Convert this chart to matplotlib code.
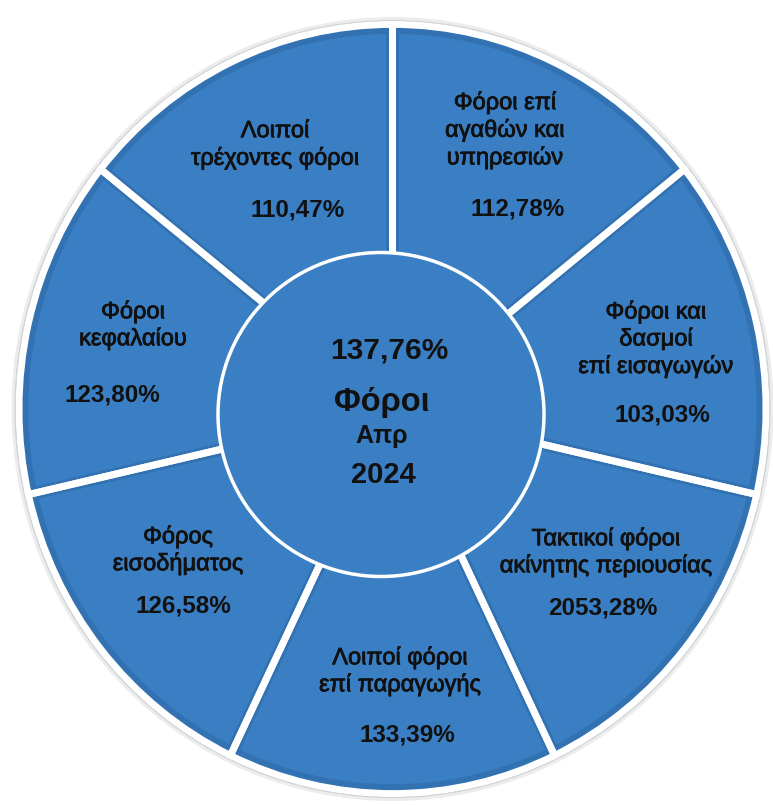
import matplotlib
matplotlib.use("Agg")
import matplotlib.pyplot as plt
import matplotlib.patheffects as pe
from matplotlib.patches import Ellipse

# data: segments clockwise from the top
categories = [
    "Φόροι επί\nαγαθών και\nυπηρεσιών",
    "Φόροι και\nδασμοί\nεπί εισαγωγών",
    "Τακτικοί φόροι\nακίνητης περιουσίας",
    "Λοιποί φόροι\nεπί παραγωγής",
    "Φόρος\nεισοδήματος",
    "Φόροι\nκεφαλαίου",
    "Λοιποί\nτρέχοντες φόροι",
]
pct_labels = ["112,78%", "103,03%", "2053,28%", "133,39%", "126,58%", "123,80%", "110,47%"]
weights = [1, 1, 1, 1, 1, 1, 1]  # all segments drawn the same size
total_pct = "137,76%"
center_title = "Φόροι"
center_month = "Απρ"
center_year = "2024"

# layout (pixel positions of the text blocks, from top-left)
name_px = [(505, 130), (656, 339), (606, 552), (400, 671), (178, 550), (133, 325), (275, 145)]
pct_px = [(518, 209), (662, 415), (603, 608), (407, 735), (183, 606), (112, 395), (298, 210)]

BLUE = "#3a7fc3"
BLUE_EDGE = "#3372b2"
TXT = "#111111"
W, H = 773, 805
CX, CY, RX, RY = 392.5, 409, 370, 381


def px(x, y):
    return (x - CX) / RX, (CY - y) / RY


plt.rcParams["font.family"] = ["Liberation Sans", "DejaVu Sans"]
fig = plt.figure(figsize=(W / 100, H / 100), dpi=100)
ax = fig.add_axes([0, 0, 1, 1])

# soft grey rim behind the ring
ax.add_patch(Ellipse((0, 0), 2 * (1 + 11 / RX), 2 * (1 + 11 / RY), facecolor="#ececec", edgecolor="none", zorder=0))
ax.add_patch(Ellipse((0, 0), 2 * (1 + 8 / RX), 2 * (1 + 8 / RY), facecolor="#cfcfcf", edgecolor="none", zorder=0))

r = 1 + 3.5 / RX
# slightly darker bevel along the segment edges, then the white gaps on top
ax.pie(weights, radius=r - 3 / RX, startangle=90, counterclock=False,
       colors=[BLUE] * len(weights),
       wedgeprops=dict(edgecolor=BLUE_EDGE, linewidth=9))
ax.pie(weights, radius=r, startangle=90, counterclock=False,
       colors=["none"] * len(weights),
       wedgeprops=dict(edgecolor="white", linewidth=5))

# centre disc
cx, cy = px(381, 414.5)
ax.add_patch(Ellipse((cx, cy), 2 * 163 / RX, 2 * 162 / RY, facecolor=BLUE,
                     edgecolor="white", linewidth=2.5, zorder=5))

thicken = [pe.withStroke(linewidth=0.6, foreground=TXT)]
for name, pct, (nx, ny), (qx, qy) in zip(categories, pct_labels, name_px, pct_px):
    ax.text(*px(nx, ny), name, ha="center", va="center", multialignment="center",
            fontsize=17, color=TXT, linespacing=1.22, zorder=6, path_effects=thicken)
    ax.text(*px(qx, qy), pct, ha="center", va="center", fontsize=17.5,
            fontweight="bold", color=TXT, zorder=6)

ax.text(*px(389, 350), total_pct, ha="center", va="center", fontsize=21.5, fontweight="bold", color=TXT, zorder=6)
ax.text(*px(382, 402), center_title, ha="center", va="center", fontsize=23.5, fontweight="bold", color=TXT, zorder=6)
ax.text(*px(382, 436), center_month, ha="center", va="center", fontsize=18, fontweight="bold", color=TXT, zorder=6)
ax.text(*px(383, 475), center_year, ha="center", va="center", fontsize=21, fontweight="bold", color=TXT, zorder=6)

ax.set_aspect("auto")
x0, y0 = px(0, H)
x1, y1 = px(W, 0)
ax.set_xlim(x0, x1)
ax.set_ylim(y0, y1)
ax.axis("off")

fig.savefig("out.png", dpi=100, facecolor="white")
